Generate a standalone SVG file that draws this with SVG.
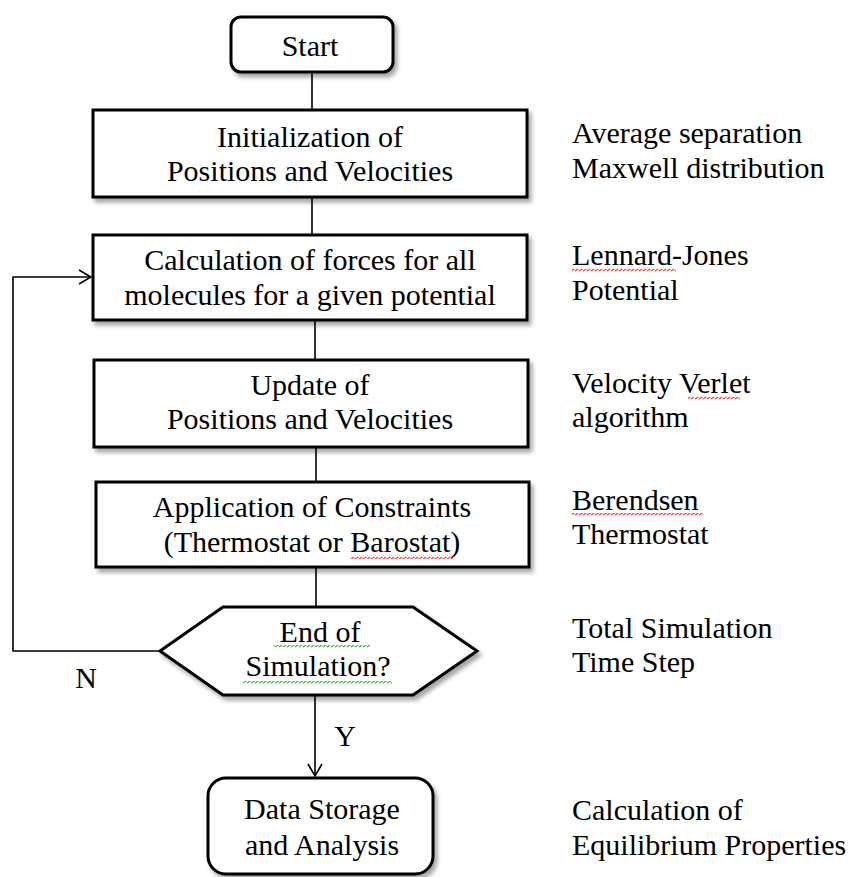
<svg xmlns="http://www.w3.org/2000/svg" width="853" height="877" viewBox="0 0 853 877">
<style>
text{font-family:"Liberation Serif","DejaVu Serif",serif;font-size:30px;fill:#000}
.c{text-anchor:middle}
.box{fill:#fff;stroke:#000;stroke-width:3;filter:url(#sh)}
.ln{fill:none;stroke:#000;stroke-width:1.6}
</style>
<defs>
<filter id="sh" x="-10%" y="-10%" width="125%" height="135%">
<feDropShadow dx="3" dy="4" stdDeviation="2" flood-color="#000" flood-opacity="0.35"/>
</filter>
<marker id="ah" markerWidth="14" markerHeight="16" refX="13" refY="8" orient="auto" markerUnits="userSpaceOnUse">
<path d="M1,1 L13,8 L1,15" fill="none" stroke="#000" stroke-width="1.6"/>
</marker>
<pattern id="rw" width="4" height="4" patternUnits="userSpaceOnUse">
<path d="M0,3 Q1,0 2,1.5 T4,3" fill="none" stroke="#e23030" stroke-width="1"/>
</pattern>
<pattern id="gw" width="4" height="4" patternUnits="userSpaceOnUse">
<path d="M0,3 Q1,0 2,1.5 T4,3" fill="none" stroke="#3aa03a" stroke-width="1"/>
</pattern>
</defs>
<g id="connectors">
<line class="ln" x1="312" y1="72" x2="312" y2="110"/>
<line class="ln" x1="312" y1="197" x2="312" y2="235"/>
<line class="ln" x1="315" y1="320" x2="315" y2="360"/>
<line class="ln" x1="316" y1="447" x2="316" y2="482"/>
<line class="ln" x1="316" y1="567" x2="316" y2="607"/>
<polyline class="ln" points="160,651 13,651 13,277 91,277" marker-end="url(#ah)"/>
<line class="ln" x1="315" y1="695" x2="315" y2="776" marker-end="url(#ah)"/>
<text x="86" y="688" class="c">N</text>
<text x="345" y="746" class="c">Y</text>
</g>
<g id="start">
<rect class="box" x="231" y="17" width="162" height="55" rx="10"/>
<text x="310" y="56" class="c">Start</text>
</g>
<g id="init">
<rect class="box" x="93" y="110" width="434" height="87"/>
<text x="310" y="147" class="c">Initialization of</text>
<text x="310" y="181" class="c">Positions and Velocities</text>
</g>
<g id="forces">
<rect class="box" x="93" y="235" width="434" height="85"/>
<text x="310" y="270" class="c">Calculation of forces for all</text>
<text x="310" y="305" class="c">molecules for a given potential</text>
</g>
<g id="update">
<rect class="box" x="94" y="360" width="434" height="87"/>
<text x="310" y="395" class="c">Update of</text>
<text x="310" y="429" class="c">Positions and Velocities</text>
</g>
<g id="constraints">
<rect class="box" x="96" y="482" width="433" height="85"/>
<text x="312" y="517" class="c">Application of Constraints</text>
<text x="312" y="552" class="c">(Thermostat or Barostat)</text>
<rect x="350" y="555" width="103" height="4" fill="url(#rw)"/>
</g>
<g id="decision">
<polygon class="box" points="160,651 223,607 413,607 477,651 413,695 223,695"/>
<text x="320" y="642" class="c">End of</text>
<text x="318" y="676" class="c">Simulation?</text>
<rect x="273" y="645" width="97" height="4" fill="url(#gw)"/>
<rect x="243" y="680" width="149" height="4" fill="url(#gw)"/>
</g>
<g id="data">
<rect class="box" x="208" y="778" width="225" height="96" rx="18"/>
<text x="322" y="819" class="c">Data Storage</text>
<text x="322" y="855" class="c">and Analysis</text>
</g>
<g id="notes">
<text x="572" y="143">Average separation</text>
<text x="572" y="178">Maxwell distribution</text>
<text x="572" y="265">Lennard-Jones</text>
<rect x="572" y="268" width="104" height="4" fill="url(#rw)"/>
<text x="572" y="300">Potential</text>
<text x="572" y="393">Velocity Verlet</text>
<rect x="688" y="396" width="52" height="4" fill="url(#rw)"/>
<text x="572" y="427">algorithm</text>
<text x="572" y="510">Berendsen</text>
<rect x="572" y="513" width="131" height="4" fill="url(#rw)"/>
<text x="572" y="544">Thermostat</text>
<text x="572" y="638">Total Simulation</text>
<text x="572" y="672">Time Step</text>
<text x="572" y="820">Calculation of</text>
<text x="572" y="855">Equilibrium Properties</text>
</g>
</svg>
